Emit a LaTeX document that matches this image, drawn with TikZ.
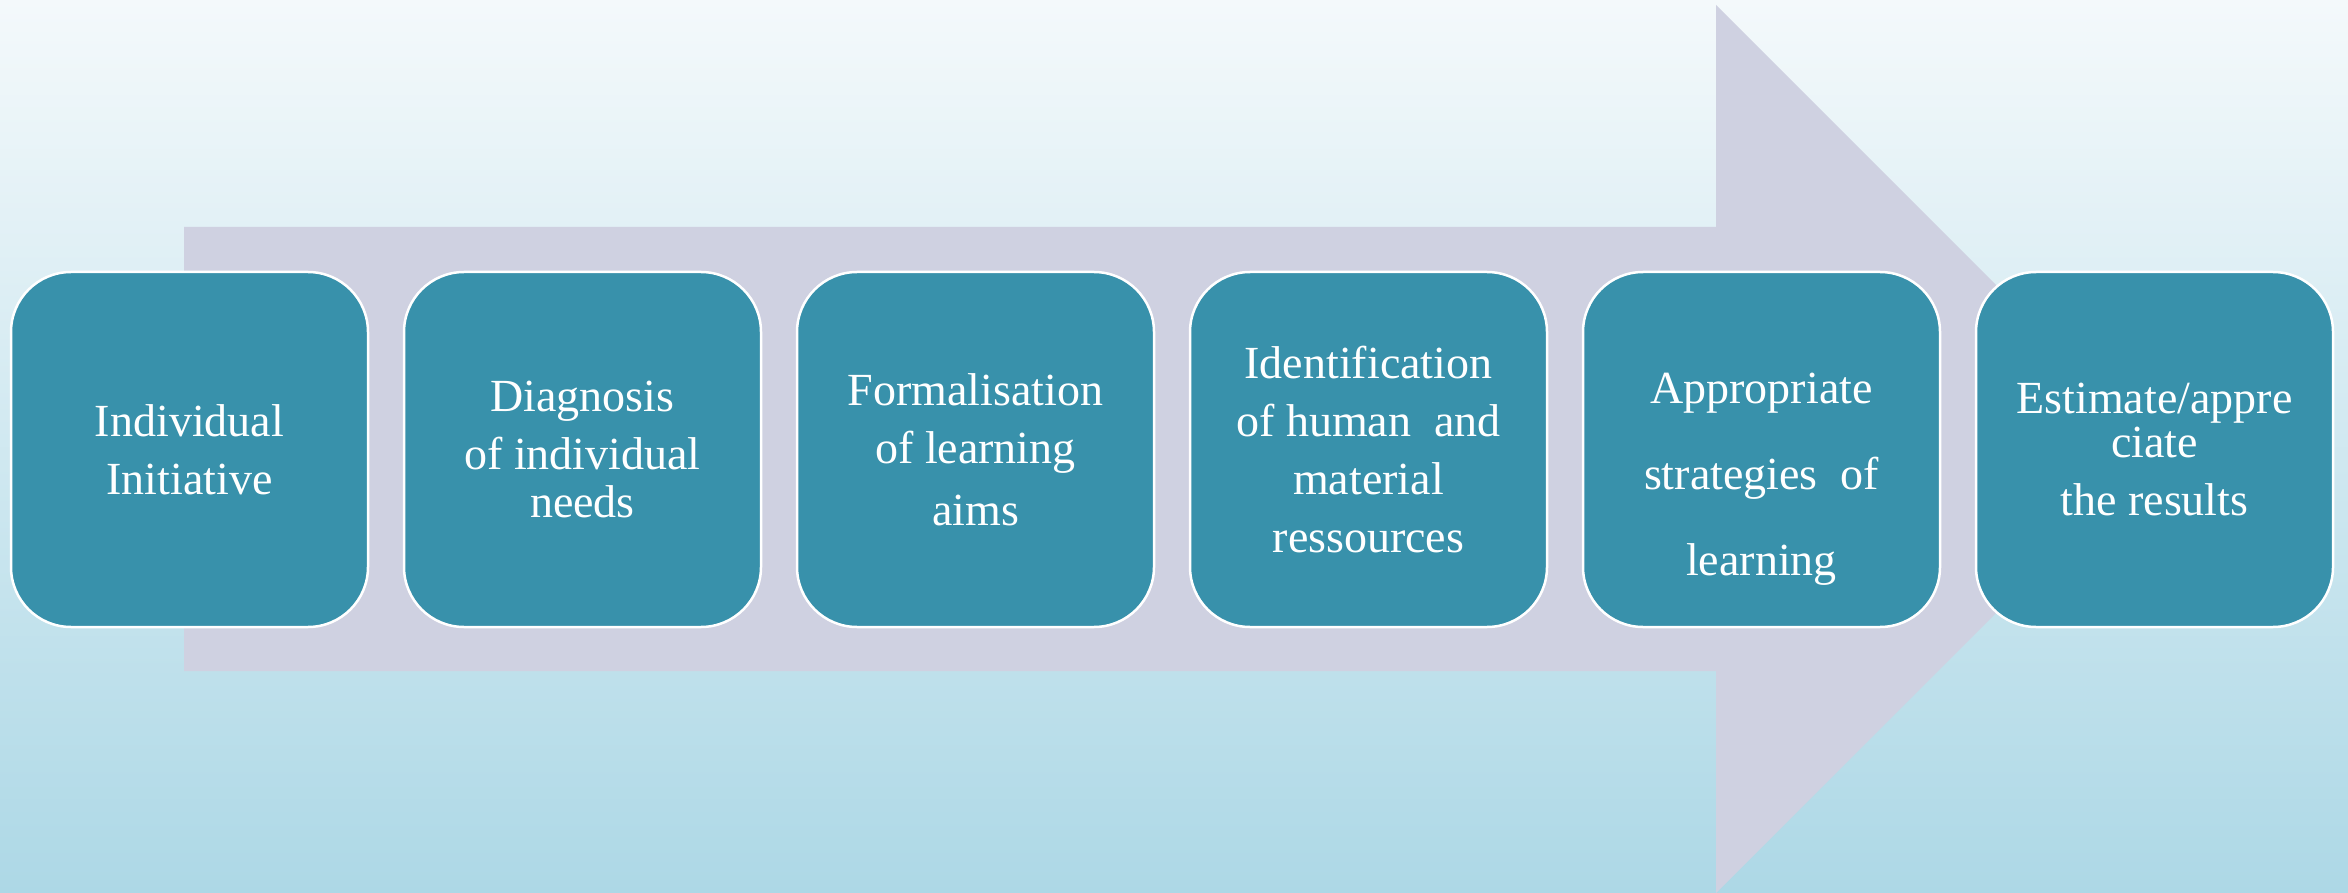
\documentclass[tikz,border=0pt]{standalone}
\usepackage{fontspec}
\setmainfont{Liberation Serif}
\definecolor{bgtop}{HTML}{F4F9FB}
\definecolor{bgbot}{HTML}{ADD8E6}
\definecolor{arrowc}{HTML}{CFD1E1}
\definecolor{boxc}{HTML}{3891AB}
\begin{document}
\begin{tikzpicture}[x=1pt,y=-1pt,
  steptext/.style={text=white, align=center, font=\fontsize{46}{58}\selectfont, inner sep=0pt},
  stepbox/.style={steptext, draw=white, line width=2.5pt, fill=boxc, rounded corners=60pt,
    minimum width=357pt, minimum height=355pt}]
\useasboundingbox (0,0) rectangle (2348,893);
\shade[top color=bgtop, bottom color=bgbot] (0,0) rectangle (2348,893);
\fill[arrowc] (184,227) -- (1716,227) -- (1716,5) -- (2160,449) -- (1716,893) -- (1716,671) -- (184,671) -- cycle;
\node[stepbox] (b1) at (189.5,449.5) {Individual\\Initiative};
\node[stepbox] (b2) at (582.5,449.5) {Diagnosis\\of individual\\[-10pt]needs};
\node[stepbox] (b3) at (975.5,449.5) {Formalisation\\of learning\\[4pt] aims};
\node[stepbox] (b4) at (1368.5,449.5) {Identification\\of human~~and\\material\\ressources};
\node[stepbox] (b5) at (1761.5,449.5) {};
\node[steptext, yshift=-30pt] (t5) at (b5.center) {Appropriate\\[28pt]strategies~~of\\[28pt]learning};
\node[stepbox] (b6) at (2154.5,449.5) {Estimate/appre\\[-14pt]ciate\\the results};
\end{tikzpicture}
\end{document}
